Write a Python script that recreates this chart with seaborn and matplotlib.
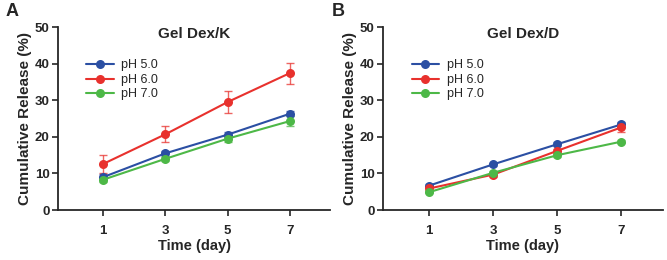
import matplotlib
matplotlib.use("Agg")
import matplotlib.pyplot as plt
import seaborn as sns
import pandas as pd
import numpy as np

sns.set_style("ticks")
plt.rcParams['font.family'] = ['Liberation Sans', 'DejaVu Sans']

days = [1, 3, 5, 7]
series = ["pH 5.0", "pH 6.0", "pH 7.0"]
colors = ["#2b4fa3", "#e8312d", "#4db847"]

# Panel A: Gel Dex/K
a_ph5 = [9.0, 15.5, 20.6, 26.3]
a_ph5_sd = [0.8, 0.7, 0.6, 0.7]
a_ph6 = [12.6, 20.7, 29.5, 37.4]
a_ph6_sd = [2.5, 2.2, 3.0, 2.9]
a_ph7 = [8.3, 14.0, 19.5, 24.3]
a_ph7_sd = [0.6, 0.6, 1.0, 1.3]

# Panel B: Gel Dex/D
b_ph5 = [6.7, 12.5, 18.0, 23.4]
b_ph5_sd = [0.4, 0.4, 0.6, 0.6]
b_ph6 = [5.9, 9.7, 16.2, 22.6]
b_ph6_sd = [0.4, 0.6, 0.6, 1.2]
b_ph7 = [4.9, 10.2, 15.0, 18.7]
b_ph7_sd = [0.3, 0.4, 0.4, 0.4]

panels = [
    ("A", "Gel Dex/K", [a_ph5, a_ph6, a_ph7], [a_ph5_sd, a_ph6_sd, a_ph7_sd]),
    ("B", "Gel Dex/D", [b_ph5, b_ph6, b_ph7], [b_ph5_sd, b_ph6_sd, b_ph7_sd]),
]

fig = plt.figure(figsize=(6.67, 2.6), dpi=100)
axes = [fig.add_axes([0.087, 0.192, 0.408, 0.704]),
        fig.add_axes([0.574, 0.192, 0.420, 0.704])]

for ax, (letter, title, vals, sds) in zip(axes, panels):
    rows = []
    for s, v in zip(series, vals):
        for d, y in zip(days, v):
            rows.append({"day": d, "val": y, "series": s})
    df = pd.DataFrame(rows)
    for s, v, sd, c in zip(series, vals, sds, colors):
        ax.errorbar(days, v, yerr=sd, fmt="none", ecolor=c, elinewidth=1.0,
                    capsize=3, capthick=1.0, alpha=0.75, zorder=2)
    sns.lineplot(data=df, x="day", y="val", hue="series", palette=colors,
                 marker="o", markersize=6.5, markeredgewidth=0, linewidth=1.5,
                 ax=ax, zorder=3)
    ax.set_xlim(-0.45, 8.3)
    ax.set_ylim(0, 50)
    ax.set_xticks(days)
    ax.set_yticks([0, 10, 20, 30, 40, 50])
    ax.tick_params(axis="both", labelsize=9.5, width=1.2, length=4, pad=2)
    for lab in ax.get_xticklabels() + ax.get_yticklabels():
        lab.set_fontweight("bold")
    ax.tick_params(axis="x", pad=7)
    for sp in ["left", "bottom"]:
        ax.spines[sp].set_linewidth(1.3)
    sns.despine(ax=ax)
    ax.set_xlabel("Time (day)", fontsize=10.5, fontweight="bold", labelpad=1)
    ax.set_ylabel("Cumulative Release (%)", fontsize=11, fontweight="bold", labelpad=2)
    ax.set_title(title, fontsize=11, fontweight="bold", y=0.895)
    leg = ax.legend(loc="upper left", bbox_to_anchor=(0.085, 0.85), frameon=False,
                    fontsize=9, handlelength=2.2, borderaxespad=0, labelspacing=0.2,
                    handletextpad=0.6)

fig.text(0.008, 0.955, "A", fontsize=13, fontweight="bold", va="center")
fig.text(0.497, 0.955, "B", fontsize=13, fontweight="bold", va="center")

fig.savefig("out.png", dpi=100)
